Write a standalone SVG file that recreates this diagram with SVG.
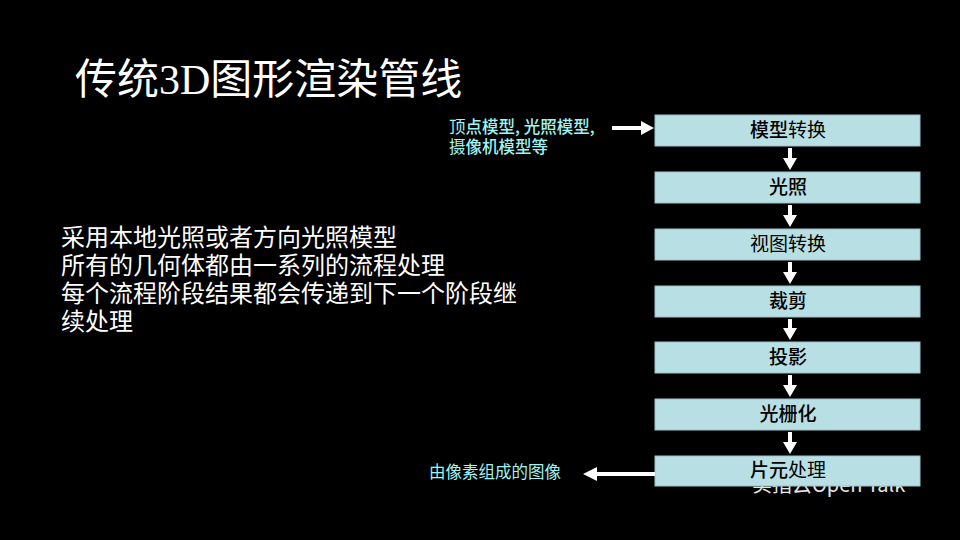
<svg xmlns="http://www.w3.org/2000/svg" width="960" height="540" viewBox="0 0 960 540">
<defs>
<style>
.box{fill:#b8dfe4;stroke:#9cc4ca;stroke-width:1}
.bt{font-family:"Noto Sans CJK SC","Noto Sans",sans-serif;font-size:19px;fill:#000;text-anchor:middle}
.b{font-weight:500}
.cy{font-family:"Noto Sans CJK SC","Noto Sans",sans-serif;font-size:16.5px;fill:#9ff3f3}
.body{font-family:"Noto Sans CJK SC","Noto Sans",sans-serif;font-size:24px;fill:#fff}
.ah{fill:#fff}
</style>
</defs>
<rect width="960" height="540" fill="#000"/>
<text x="75" y="94" font-family="'Liberation Serif','Noto Sans CJK SC',serif" font-size="42" fill="#fff">传统3D图形渲染管线</text>
<g id="desc" class="body">
<text x="61" y="246">采用本地光照或者方向光照模型</text>
<text x="61" y="274">所有的几何体都由一系列的流程处理</text>
<text x="61" y="302">每个流程阶段结果都会传递到下一个阶段继</text>
<text x="61" y="330">续处理</text>
</g>
<text x="752" y="492" font-family="'Noto Sans CJK SC',sans-serif" font-size="20" fill="#e6e6e6">实指云Open Talk</text>
<g id="n1"><rect class="box" x="655" y="115" width="265" height="31"/><text class="bt" x="788" y="137"><tspan class="b">模型</tspan>转换</text></g>
<g id="n2"><rect class="box" x="655" y="172" width="265" height="31"/><text class="bt b" x="788" y="194">光照</text></g>
<g id="n3"><rect class="box" x="655" y="229" width="265" height="31"/><text class="bt" x="788" y="251">视图转换</text></g>
<g id="n4"><rect class="box" x="655" y="286" width="265" height="31"/><text class="bt b" x="788" y="308">裁剪</text></g>
<g id="n5"><rect class="box" x="655" y="342" width="265" height="31"/><text class="bt b" x="788" y="364">投影</text></g>
<g id="n6"><rect class="box" x="655" y="399" width="265" height="31"/><text class="bt b" x="788" y="421">光栅化</text></g>
<g id="n7"><rect class="box" x="655" y="456" width="265" height="30"/><text class="bt" x="788" y="477"><tspan class="b">片元</tspan>处理</text></g>
<g id="in"><text class="cy" x="449" y="133">顶<tspan class="b">点模型, 光照模型,</tspan></text><text class="cy" x="449" y="153">摄<tspan class="b">像机模型等</tspan></text></g>
<g id="out"><text class="cy" x="429" y="478">由像素组成的图像</text></g>
<g id="connectors">
<path class="ah" d="M612,126 L641,126 L641,121 L654,128 L641,135 L641,130 L612,130 z"/>
<path class="ah" d="M788,148 L792,148 L792,158 L797,158 L790,170 L783,158 L788,158 z"/>
<path class="ah" d="M788,205 L792,205 L792,215 L797,215 L790,227 L783,215 L788,215 z"/>
<path class="ah" d="M788,262 L792,262 L792,272 L797,272 L790,284 L783,272 L788,272 z"/>
<path class="ah" d="M788,319 L792,319 L792,328 L797,328 L790,340 L783,328 L788,328 z"/>
<path class="ah" d="M788,375 L792,375 L792,385 L797,385 L790,397 L783,385 L788,385 z"/>
<path class="ah" d="M788,432 L792,432 L792,442 L797,442 L790,454 L783,442 L788,442 z"/>
<path class="ah" d="M655,472 L597,472 L597,467 L583,474 L597,481 L597,476 L655,476 z"/>
</g>
</svg>
